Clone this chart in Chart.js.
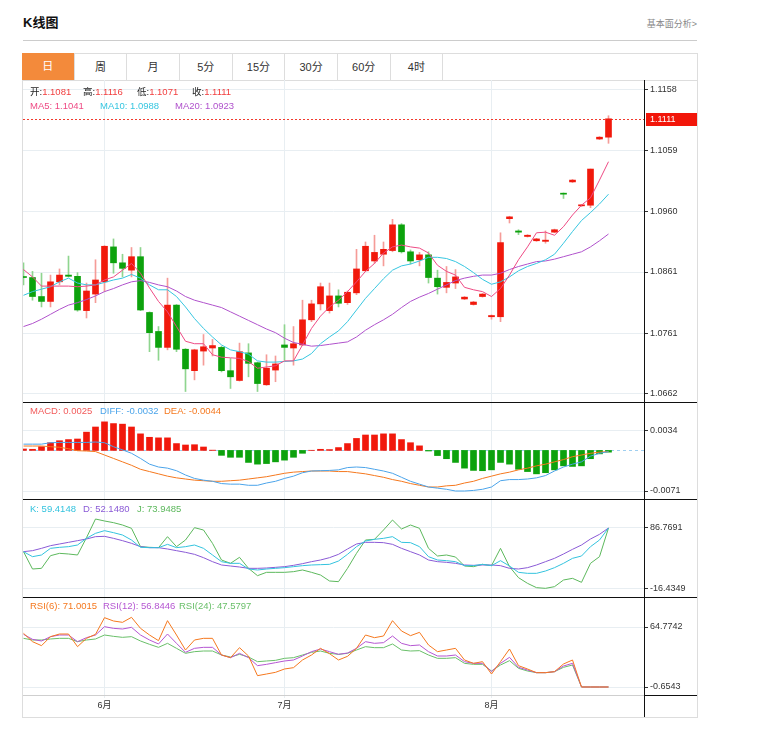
<!DOCTYPE html>
<html><head><meta charset="utf-8">
<script src="https://cdn.jsdelivr.net/npm/chart.js@4.4.1/dist/chart.umd.min.js"></script>
<style>
body{margin:0;background:#fff;font-family:"Liberation Sans","Noto Sans CJK SC",sans-serif;}
#root{position:relative;width:774px;height:745px;overflow:hidden;}
.abs{position:absolute;}
.lg{position:absolute;font-size:9.5px;line-height:12px;white-space:nowrap;}
.tab{position:absolute;top:54px;height:26px;line-height:26px;text-align:center;font-size:11px;color:#333;border-right:1px solid #ddd;box-sizing:border-box;}
canvas{position:absolute;left:23px;}
.bl{position:absolute;background:#111;}
</style></head>
<body><div id="root">
<div class="abs" style="left:23px;top:14px;font-size:13px;font-weight:bold;line-height:18px;color:#111;">K线图</div>
<div class="abs" style="right:77px;top:18px;font-size:9px;line-height:12px;color:#888;">基本面分析&gt;</div>
<div class="abs" style="left:23px;top:40px;width:674px;height:1px;background:#ccc;"></div>
<div class="abs" style="left:22px;top:53px;width:676px;height:28px;border:1px solid #ddd;box-sizing:border-box;"></div>
<div id="tabs"></div>
<div class="abs" style="left:22px;top:80px;width:676px;height:638px;border:1px solid #ddd;border-top:none;box-sizing:border-box;"></div>
<canvas id="c1" width="674" height="322" style="top:80px"></canvas>
<canvas id="c2" width="674" height="97" style="top:402px"></canvas>
<canvas id="c3" width="674" height="98" style="top:499px"></canvas>
<canvas id="c4" width="674" height="120" style="top:597px"></canvas>
<div class="bl" style="left:23px;top:402px;width:674px;height:1px;"></div>
<div class="bl" style="left:23px;top:499px;width:674px;height:1px;"></div>
<div class="bl" style="left:23px;top:597px;width:674px;height:1px;"></div>
<div class="bl" style="left:644px;top:695px;width:53px;height:1px;"></div>
<div class="bl" style="left:644px;top:80px;width:1px;height:637px;"></div>
<div id="legends"></div>
</div>
<script>
// ---------- data ----------
const opens = [1.0853,1.0852,1.0821,1.0813,1.0845,1.0856,1.0854,1.0798,1.0825,1.0845,
1.0902,1.0876,1.0864,1.0886,1.0795,1.0764,1.0738,1.0807,1.0735,1.0700,
1.0732,1.0737,1.0738,1.0700,1.0684,1.0729,1.0713,1.0677,1.0701,1.0742,
1.0737,1.0742,1.0783,1.0809,1.0798,1.0822,1.0811,1.0827,1.0863,1.0879,
1.0890,1.0896,1.0938,1.0894,1.0881,1.0889,1.0851,1.0836,1.0843,1.0817,
1.0808,1.0821,1.0788,1.0788,1.0948,1.0928,1.0919,1.0912,1.0911,1.0926,
1.0989,1.1008,1.0969,1.0970,1.1078,1.1081];
const highs = [1.0876,1.0862,1.0859,1.0856,1.0866,1.0887,1.0860,1.0843,1.0881,1.0904,
1.0915,1.0890,1.0901,1.0901,1.0796,1.0772,1.0851,1.0808,1.0736,1.0735,
1.0759,1.0751,1.0740,1.0720,1.0745,1.0744,1.0714,1.0726,1.0724,1.0775,
1.0772,1.0815,1.0815,1.0843,1.0843,1.0832,1.0830,1.0898,1.0910,1.0921,
1.0910,1.0947,1.0940,1.0897,1.0893,1.0894,1.0864,1.0870,1.0865,1.0821,
1.0813,1.0826,1.0791,1.0925,1.0952,1.0930,1.0922,1.0916,1.0928,1.0931,
1.0990,1.1012,1.0971,1.1029,1.1082,1.1116];
const lows = [1.0840,1.0815,1.0804,1.0804,1.0840,1.0853,1.0797,1.0786,1.0811,1.0829,
1.0859,1.0853,1.0853,1.0798,1.0731,1.0717,1.0734,1.0731,1.0666,1.0685,
1.0709,1.0724,1.0698,1.0671,1.0683,1.0690,1.0666,1.0676,1.0682,1.0717,
1.0709,1.0741,1.0780,1.0799,1.0794,1.0804,1.0808,1.0824,1.0862,1.0875,
1.0871,1.0894,1.0892,1.0874,1.0871,1.0843,1.0825,1.0827,1.0834,1.0816,
1.0807,1.0820,1.0784,1.0780,1.0941,1.0922,1.0918,1.0911,1.0908,1.0925,
1.0981,1.1007,1.0968,1.0966,1.1077,1.1071];
const closes = [1.0852,1.0821,1.0813,1.0845,1.0856,1.0854,1.0799,1.0830,1.0848,1.0903,
1.0876,1.0867,1.0886,1.0799,1.0762,1.0738,1.0807,1.0735,1.0703,1.0734,
1.0739,1.0741,1.0700,1.0690,1.0731,1.0712,1.0679,1.0704,1.0711,1.0738,
1.0744,1.0783,1.0809,1.0837,1.0822,1.0810,1.0828,1.0866,1.0903,1.0893,
1.0898,1.0938,1.0894,1.0879,1.0889,1.0852,1.0837,1.0844,1.0853,1.0820,
1.0812,1.0825,1.0790,1.0909,1.0951,1.0926,1.0921,1.0915,1.0913,1.0930,
1.0988,1.1011,1.0970,1.1029,1.1081,1.1111];
const ma5 = [1.0865,1.0853,1.0838,1.0838,1.0838,1.0838,1.0837,1.0838,1.0840,1.0848,
1.0853,1.0864,1.0875,1.0859,1.0835,1.0813,1.0796,1.0772,1.0748,1.0744,
1.0744,1.0726,1.0722,1.0721,1.0720,1.0715,1.0704,1.0706,1.0708,1.0716,
1.0716,1.0742,1.0769,1.0789,1.0804,1.0815,1.0829,1.0845,1.0862,1.0875,
1.0892,1.0902,1.0905,1.0902,1.0900,1.0892,1.0872,1.0862,1.0856,1.0836,
1.0832,1.0829,1.0821,1.0834,1.0856,1.0881,1.0902,1.0925,1.0926,1.0921,
1.0935,1.0954,1.0970,1.0982,1.1011,1.1041];
const ma10 = [1.0823,1.0829,1.0833,1.0837,1.0845,1.0851,1.0843,1.0840,1.0840,1.0844,
1.0848,1.0851,1.0857,1.0851,1.0840,1.0832,1.0832,1.0821,1.0804,1.0785,
1.0769,1.0755,1.0742,1.0734,1.0731,1.0727,1.0716,1.0714,1.0714,1.0715,
1.0716,1.0719,1.0728,1.0744,1.0755,1.0765,1.0780,1.0799,1.0818,1.0834,
1.0850,1.0864,1.0871,1.0874,1.0879,1.0885,1.0885,1.0883,1.0878,1.0870,
1.0860,1.0849,1.0841,1.0845,1.0853,1.0863,1.0870,1.0875,1.0881,1.0890,
1.0908,1.0927,1.0945,1.0958,1.0972,1.0988];
const ma20 = [1.0772,1.0777,1.0784,1.0792,1.0800,1.0807,1.0811,1.0816,1.0822,1.0829,
1.0834,1.0840,1.0845,1.0847,1.0844,1.0840,1.0837,1.0830,1.0821,1.0815,
1.0811,1.0807,1.0803,1.0796,1.0789,1.0782,1.0775,1.0768,1.0762,1.0753,
1.0746,1.0743,1.0740,1.0741,1.0743,1.0745,1.0747,1.0755,1.0766,1.0775,
1.0783,1.0792,1.0803,1.0813,1.0820,1.0826,1.0833,1.0840,1.0847,1.0851,
1.0854,1.0856,1.0856,1.0859,1.0865,1.0870,1.0874,1.0878,1.0879,1.0882,
1.0886,1.0890,1.0894,1.0902,1.0912,1.0923];
const macdHist = [0.00025,0.0002,0.00065,0.00135,0.0017,0.0019,0.002,0.0032,0.0041,0.005,
0.0047,0.0046,0.0041,0.0029,0.0023,0.0022,0.0022,0.0012,0.00095,0.001,
0.0006,0.00005,-0.00086,-0.0012,-0.0012,-0.0021,-0.0024,-0.0023,-0.002,-0.0017,
-0.0012,-0.0005,0.00003,0.0002,0.00015,0.0005,0.0012,0.0021,0.0027,0.0027,
0.0029,0.0029,0.0019,0.00135,0.0008,-0.0001,-0.0009,-0.00145,-0.0021,-0.0031,
-0.0035,-0.00355,-0.0034,-0.0021,-0.0024,-0.0033,-0.0037,-0.0041,-0.0039,-0.0034,
-0.0027,-0.0028,-0.0027,-0.00145,-0.0006,-0.0003];
const diff = [0.0011,0.0011,0.0011,0.00135,0.0014,0.0014,0.0014,0.0014,0.00147,0.00135,
0.00065,0.0001,-0.0005,-0.0014,-0.0024,-0.0029,-0.0031,-0.00355,-0.0043,-0.0049,
-0.0052,-0.0054,-0.0058,-0.0059,-0.0059,-0.0061,-0.0061,-0.0057,-0.0054,-0.0049,
-0.0045,-0.0039,-0.0036,-0.00355,-0.0035,-0.0034,-0.003,-0.0029,-0.003,-0.0033,
-0.0036,-0.004,-0.0047,-0.0054,-0.0059,-0.0064,-0.0066,-0.0068,-0.0071,-0.0071,
-0.007,-0.0068,-0.0064,-0.0053,-0.0051,-0.0051,-0.005,-0.0048,-0.0044,-0.0036,
-0.0029,-0.0024,-0.002,-0.001,-0.0005,-0.0002];
const dea = [0.00077,0.00077,0.00077,0.00065,0.00055,0.0003,-0.00005,-0.0001,-0.0002,-0.0008,
-0.0014,-0.002,-0.0026,-0.0033,-0.0037,-0.0041,-0.0045,-0.0048,-0.005,-0.0052,
-0.0053,-0.0054,-0.0054,-0.0053,-0.0052,-0.005,-0.0048,-0.0046,-0.0043,-0.004,
-0.0038,-0.0037,-0.0036,-0.0036,-0.0036,-0.0037,-0.0037,-0.0039,-0.0041,-0.0044,
-0.0047,-0.0051,-0.0054,-0.0058,-0.0061,-0.0064,-0.0064,-0.0062,-0.0061,-0.0057,
-0.0054,-0.0049,-0.0045,-0.0041,-0.0038,-0.0034,-0.0031,-0.0027,-0.0024,-0.002,
-0.0016,-0.0011,-0.0008,-0.0005,-0.0003,-0.0002];
const kLine = [46.73,38.27,41.09,52.36,54.06,55.18,58.00,69.28,77.74,82.26,
78.87,74.92,66.46,54.06,53.49,53.49,59.13,53.49,55.18,58.00,
52.36,41.09,29.81,26.99,26.99,17.40,15.71,17.40,18.53,19.65,
21.35,23.04,24.17,24.73,25.29,30.93,42.21,55.18,64.77,67.59,
69.28,72.10,62.52,61.95,55.18,38.27,32.63,31.50,29.81,23.04,
23.04,25.29,23.04,31.50,22.47,11.76,10.07,10.07,14.01,19.65,
26.99,35.45,39.39,55.18,66.46,86.77];
const dLine = [46.73,48.42,52.36,56.88,59.70,62.52,65.34,68.16,72.10,72.67,
69.28,65.34,60.82,55.18,53.49,53.49,51.24,48.42,45.60,42.21,
36.57,29.81,24.17,22.47,20.78,18.53,18.53,19.09,20.22,21.35,
23.60,26.42,29.81,32.63,36.57,42.21,51.24,59.70,62.52,62.52,
61.95,59.13,52.36,46.73,41.09,32.63,29.81,28.68,26.99,24.17,
23.60,24.17,24.17,23.04,18.53,17.40,19.65,24.17,29.81,35.45,
42.78,50.67,58.00,68.16,76.05,86.77];
const jLine = [46.73,17.40,18.53,39.96,43.91,42.78,41.09,70.41,101.99,98.61,
95.79,91.84,86.20,55.18,54.06,53.49,72.10,55.18,66.46,87.33,
83.38,60.82,32.63,26.99,37.14,18.53,6.12,11.76,11.76,11.76,
12.89,15.71,11.76,7.25,-2.90,-4.03,18.53,43.91,66.46,67.59,
83.38,100.30,85.08,91.84,86.20,52.36,39.39,41.09,37.70,22.47,
21.35,25.29,23.04,52.36,21.35,2.74,-6.85,-14.18,-15.31,-12.49,
-1.21,1.61,-5.16,26.99,38.27,86.77];
const rsi6 = [57.87,48.78,44.42,54.23,57.14,57.14,43.33,52.42,56.78,74.95,
71.32,69.86,75.32,63.32,56.05,49.87,71.68,56.05,39.69,50.60,
52.42,52.42,34.24,31.33,42.24,33.15,11.71,13.52,15.34,18.98,
20.43,28.79,34.24,41.51,35.70,28.79,32.79,41.51,56.05,53.14,
54.96,71.68,60.41,55.32,58.96,45.15,37.88,39.69,41.51,28.79,
25.15,26.97,13.52,26.97,40.78,22.61,18.98,14.98,14.98,16.07,
24.43,28.79,-0.65,-0.65,-0.65,-0.65];
const rsi12 = [56.78,51.33,49.51,54.23,56.05,56.05,48.78,53.14,56.05,65.14,
63.32,62.59,64.41,56.05,50.60,46.24,57.14,46.96,37.15,41.51,
42.60,42.60,34.24,31.33,36.06,31.33,22.61,24.06,25.88,27.70,
28.79,33.15,37.88,40.78,37.88,34.97,36.42,41.51,48.78,46.96,
47.69,54.96,46.96,44.42,45.15,37.88,33.15,33.15,34.24,26.97,
25.15,25.15,16.07,25.15,31.70,20.79,17.88,14.98,14.98,16.07,
22.25,25.15,-0.65,-0.65,-0.65,-0.65];
const rsi24 = [52.42,50.60,50.60,51.69,52.42,52.42,48.78,50.60,51.69,56.05,
54.60,53.51,54.23,49.51,45.87,42.60,46.96,41.51,36.06,37.88,
38.60,38.60,34.24,32.06,34.97,32.06,26.97,27.70,28.43,30.61,
31.33,34.24,37.15,38.60,36.06,34.97,36.06,39.69,43.33,42.24,
42.24,46.24,39.69,38.60,38.97,34.24,30.61,30.61,31.33,25.15,
24.06,24.06,16.79,23.34,28.06,19.70,16.79,14.98,14.98,16.07,
20.79,23.34,-0.65,-0.65,-0.65,-0.65];
const priceTicks = [1.1158,1.1059,1.0960,1.0861,1.0761,1.0662];
const macdTicks = [0.0034,-0.0071];
const kdjTicks = [86.7691,-16.4349];
const rsiTicks = [64.7742,-0.6543];
const monthTicks = [9,29,52];
const monthLabels = ['6月','7月','8月'];
const tabLabels = ['日','周','月','5分','15分','30分','60分','4时'];
const macdLegend = ['0.0025','-0.0032','-0.0044'];
const kdjLegend = ['59.4148','52.1480','73.9485'];
const rsiLegend = ['71.0015','56.8446','47.5797'];

// ---------- styling ----------
const FONT = '"Liberation Sans","Noto Sans CJK SC",sans-serif';
const GRID = '#e8eef2';
const UP = '#f1190c', DOWN = '#0da20d', UPW = '#f59c98', DOWNW = '#8fd58f';
const C_MA5 = '#ee4a84', C_MA10 = '#36c6e0', C_MA20 = '#b052cc';
const C_DIFF = '#4ba4ea', C_DEA = '#f5781e';
const C_K = '#33c3de', C_D = '#8a5ad6', C_J = '#5cb85c';
const C_R6 = '#f5781e', C_R12 = '#b556d2', C_R24 = '#69bf69';
const N = closes.length;
const X_MIN = -0.0556, X_MAX = X_MIN + 621/9;

// tabs
(function(){
  const t = document.getElementById('tabs');
  tabLabels.forEach((s,k)=>{
    const d = document.createElement('div');
    d.className='tab'; d.textContent=s;
    d.style.left = (22 + 52.65*k).toFixed(2)+'px'; d.style.width='52.65px';
    if(k===0){d.style.background='#f38a3b';d.style.color='#fff';d.style.top='53px';d.style.height='27px';}
    t.appendChild(d);
  });
})();

// legends
(function(){
  const L = document.getElementById('legends');
  function add(x,y,html){const d=document.createElement('div');d.className='lg';d.style.left=x+'px';d.style.top=y+'px';d.innerHTML=html;L.appendChild(d);}
  const red = v=>'<span style="color:#f23d3d">'+v+'</span>';
  add(30,86,'<span style="color:#222">开:</span>'+red(opens[N-1].toFixed(4)));
  add(83,86,'<span style="color:#222">高:</span>'+red(highs[N-1].toFixed(4)));
  add(137,86,'<span style="color:#222">低:</span>'+red(lows[N-1].toFixed(4)));
  add(192,86,'<span style="color:#222">收:</span>'+red(closes[N-1].toFixed(4)));
  add(30,100,'<span style="color:'+C_MA5+'">MA5: '+ma5[N-1].toFixed(4)+'</span>');
  add(100,100,'<span style="color:'+C_MA10+'">MA10: '+ma10[N-1].toFixed(4)+'</span>');
  add(175,100,'<span style="color:'+C_MA20+'">MA20: '+ma20[N-1].toFixed(4)+'</span>');
  add(30,405,'<span style="color:#f25a5a">MACD: '+macdLegend[0]+'</span>');
  add(100,405,'<span style="color:'+C_DIFF+'">DIFF: '+macdLegend[1]+'</span>');
  add(164,405,'<span style="color:'+C_DEA+'">DEA: '+macdLegend[2]+'</span>');
  add(30,503,'<span style="color:'+C_K+'">K: '+kdjLegend[0]+'</span>');
  add(83,503,'<span style="color:'+C_D+'">D: '+kdjLegend[1]+'</span>');
  add(137,503,'<span style="color:'+C_J+'">J: '+kdjLegend[2]+'</span>');
  add(30,600,'<span style="color:'+C_R6+'">RSI(6): '+rsiLegend[0]+'</span>');
  add(103,600,'<span style="color:'+C_R12+'">RSI(12): '+rsiLegend[1]+'</span>');
  add(179,600,'<span style="color:'+C_R24+'">RSI(24): '+rsiLegend[2]+'</span>');
})();

// ---------- helpers ----------
const pts = arr => arr.map((v,i)=>({x:i,y:v}));
function line(data,color){return {type:'line',data:pts(data),borderColor:color,borderWidth:1,pointRadius:0,tension:0,fill:false};}
function yAxis(min,max,ticks){
  return {type:'linear',position:'right',min,max,bounds:'data',
    afterBuildTicks(s){s.ticks=ticks.map(v=>({value:v}));},
    afterFit(s){s.width=53;s.paddingTop=0;s.paddingBottom=0;},
    grid:{color:GRID,drawTicks:true,tickLength:4,tickColor:'#333',tickWidth:1},
    border:{display:false},
    ticks:{color:'#333',font:{size:9,family:FONT},padding:2,callback:v=>Number(v).toFixed(4)}};
}
function xAxis(show){
  return {type:'linear',min:X_MIN,max:X_MAX,bounds:'data',offset:false,
    afterBuildTicks(s){s.ticks=monthTicks.map(v=>({value:v}));},
    afterFit(s){s.height=show?22:0;s.paddingLeft=0;s.paddingRight=0;},
    grid:{color:GRID,offset:false,drawTicks:show,tickLength:3,tickColor:GRID},
    border:{display:show,color:'#cfcfcf'},
    ticks:{display:show,autoSkip:false,maxRotation:0,color:'#333',font:{size:9,family:FONT},padding:2,
      callback:(v,i)=>monthLabels[i]}};
}
const base = {responsive:false,animation:false,events:[],layout:{padding:0},
  plugins:{legend:{display:false},tooltip:{enabled:false}}};

// ---------- main candlestick ----------
const closeLine = {id:'closeLine',
  beforeDatasetsDraw(ch){const c=ch.ctx,a=ch.chartArea,y=Math.round(ch.scales.y.getPixelForValue(closes[N-1]))+0.5;
    c.save();c.strokeStyle='#f03a2e';c.lineWidth=1;c.setLineDash([2,2]);c.beginPath();c.moveTo(a.left,y);c.lineTo(a.right,y);c.stroke();c.restore();},
  afterDraw(ch){const c=ch.ctx,a=ch.chartArea,y=ch.scales.y.getPixelForValue(closes[N-1]);
    c.save();c.fillStyle='#f2160a';c.fillRect(a.right+2,Math.round(y)-6,ch.width-a.right-2,13);
    c.fillStyle='#fff';c.font='9px '+FONT;c.textBaseline='middle';c.fillText(closes[N-1].toFixed(4),a.right+6,Math.round(y)+0.5);c.restore();}
};
new Chart(document.getElementById('c1'),{
  type:'bar',
  data:{datasets:[
    line(ma5,C_MA5),line(ma10,C_MA10),line(ma20,C_MA20),
    {type:'bar',data:opens.map((o,i)=>({x:i,y:[o,closes[i]]})),grouped:false,barThickness:6,minBarLength:1,
     backgroundColor:closes.map((c,i)=>c>=opens[i]?UP:DOWN)},
    {type:'bar',data:lows.map((l,i)=>({x:i,y:[l,highs[i]]})),grouped:false,barThickness:1,
     backgroundColor:closes.map((c,i)=>c>=opens[i]?UPW:DOWNW)}
  ]},
  options:Object.assign({},base,{scales:{x:xAxis(false),y:yAxis(1.06489,1.11743,priceTicks)}}),
  plugins:[closeLine]
});

// ---------- MACD ----------
const zeroLine = {id:'zeroLine',beforeDatasetsDraw(ch){const c=ch.ctx,a=ch.chartArea,y=Math.round(ch.scales.y.getPixelForValue(0))+0.5;
  c.save();c.strokeStyle='#9fcff0';c.lineWidth=1;c.setLineDash([3,3]);c.beginPath();c.moveTo(a.left,y);c.lineTo(a.right,y);c.stroke();c.restore();}};
new Chart(document.getElementById('c2'),{
  type:'bar',
  data:{datasets:[
    line(diff,C_DIFF),line(dea,C_DEA),
    {type:'bar',data:pts(macdHist),grouped:false,barThickness:6,backgroundColor:macdHist.map(v=>v>=0?UP:DOWN)}
  ]},
  options:Object.assign({},base,{scales:{x:xAxis(false),y:yAxis(-0.0085,0.008475,macdTicks)}}),
  plugins:[zeroLine]
});

// ---------- KDJ ----------
new Chart(document.getElementById('c3'),{
  type:'line',
  data:{datasets:[line(kLine,C_K),line(dLine,C_D),line(jLine,C_J)]},
  options:Object.assign({},base,{scales:{x:xAxis(false),y:yAxis(-29.97,135.83,kdjTicks)}})
});

// ---------- RSI ----------
new Chart(document.getElementById('c4'),{
  type:'line',
  data:{datasets:[line(rsi6,C_R6),line(rsi12,C_R12),line(rsi24,C_R24)]},
  options:Object.assign({},base,{scales:{x:xAxis(true),y:yAxis(-9.378,97.49,rsiTicks)}})
});
</script>
</body></html>
